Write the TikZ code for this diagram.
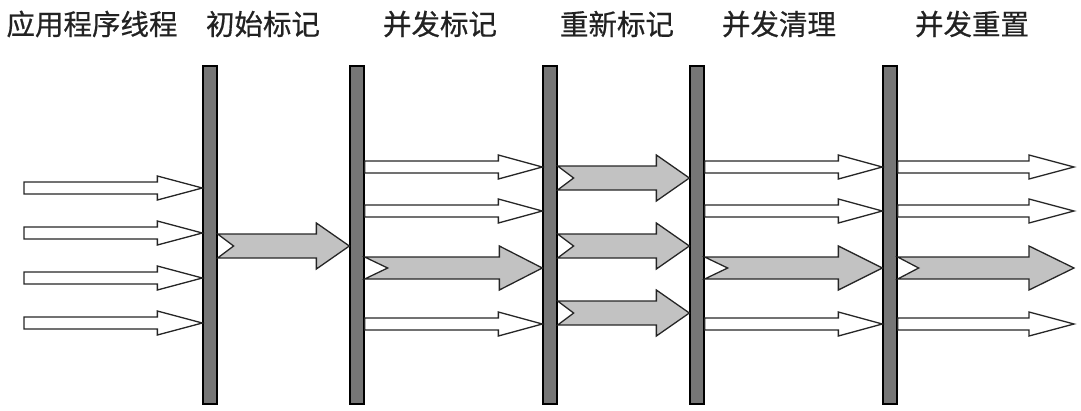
\documentclass[tikz,border=0pt]{standalone}
\usepackage{fontspec}
\usepackage{tikz}
\usetikzlibrary{calc}
\newfontfamily\cjk{Noto Sans CJK SC}[FakeBold=0.6]
\definecolor{barfill}{HTML}{767676}
\definecolor{workfill}{HTML}{C2C2C2}
\definecolor{labeltext}{HTML}{222222}
\tikzset{
  phasebar/.style={draw=black, line width=1.3pt, fill=barfill, minimum width=14pt, minimum height=338pt, inner sep=0pt},
  phaselabel/.style={font=\cjk\fontsize{28.5}{31}\selectfont, text=labeltext, inner sep=0pt},
  userthread/.style={draw=black!85, line width=1.3pt, fill=white, line join=miter},
  gcthread/.style={draw=black!85, line width=1.3pt, fill=workfill, line join=miter}
}
% #1 style, #2 from, #3 to, #4 half shaft, #5 half head, #6 head length, #7 notch
\newcommand{\thread}[7]{%
  \draw[#1] let \p1=(#2), \p2=(#3) in
    (\x1,\y1+#4) -- (\x2-#6,\y1+#4) -- (\x2-#6,\y1+#5) -- (\x2,\y1)
    -- (\x2-#6,\y1-#5) -- (\x2-#6,\y1-#4) -- (\x1,\y1-#4) -- (\x1+#7,\y1) -- cycle;}

\begin{document}
\begin{tikzpicture}[x=1pt, y=-1pt]
\useasboundingbox (0,0) rectangle (1081,410);

% labels
\node[phaselabel] (app) at (92,24) {应用程序线程};
\node[phaselabel] (initial) at (263,24) {初始标记};
\node[phaselabel] (concmark) at (440,24) {并发标记};
\node[phaselabel] (remark) at (617,24) {重新标记};
\node[phaselabel] (sweep) at (779,24) {并发清理};
\node[phaselabel] (reset) at (972,24) {并发重置};

% phase bars
\node[phasebar] (b1) at (210,235) {};
\node[phasebar] (b2) at (357,235) {};
\node[phasebar] (b3) at (550,235) {};
\node[phasebar] (b4) at (697,235) {};
\node[phasebar] (b5) at (890,235) {};

% rows
\coordinate (ra) at (24,188);
\coordinate (rb) at (24,233);
\coordinate (rc) at (24,278);
\coordinate (rd) at (24,323);
\coordinate (w1) at (0,167);
\coordinate (w2) at (0,211);
\coordinate (g1) at (0,246);
\coordinate (g2) at (0,268);
\coordinate (w4) at (0,324);
\coordinate (h1) at (0,178);
\coordinate (h3) at (0,313);
\coordinate (tail) at (1074,0);

% application threads
\foreach \r in {ra,rb,rc,rd}
  \thread{userthread}{\r}{b1.west |- \r}{6pt}{12pt}{45pt}{0pt};

% initial mark
\thread{gcthread}{b1.east |- g1}{b2.west |- g1}{12pt}{23pt}{33pt}{16pt};

% concurrent mark
\foreach \r in {w1,w2,w4}
  \thread{userthread}{b2.east |- \r}{b3.west |- \r}{6pt}{12pt}{44pt}{0pt};
\thread{gcthread}{b2.east |- g2}{b3.west |- g2}{11pt}{22pt}{43pt}{23pt};

% remark
\foreach \r in {h1,g1,h3}
  \thread{gcthread}{b3.east |- \r}{b4.west |- \r}{12pt}{23pt}{33pt}{16pt};

% concurrent sweep
\foreach \r in {w1,w2,w4}
  \thread{userthread}{b4.east |- \r}{b5.west |- \r}{6pt}{12pt}{44pt}{0pt};
\thread{gcthread}{b4.east |- g2}{b5.west |- g2}{11pt}{22pt}{44pt}{23pt};

% concurrent reset
\foreach \r in {w1,w2,w4}
  \thread{userthread}{b5.east |- \r}{tail |- \r}{6pt}{12pt}{45pt}{0pt};
\thread{gcthread}{b5.east |- g2}{tail |- g2}{11pt}{22pt}{45pt}{21pt};
\end{tikzpicture}
\end{document}
